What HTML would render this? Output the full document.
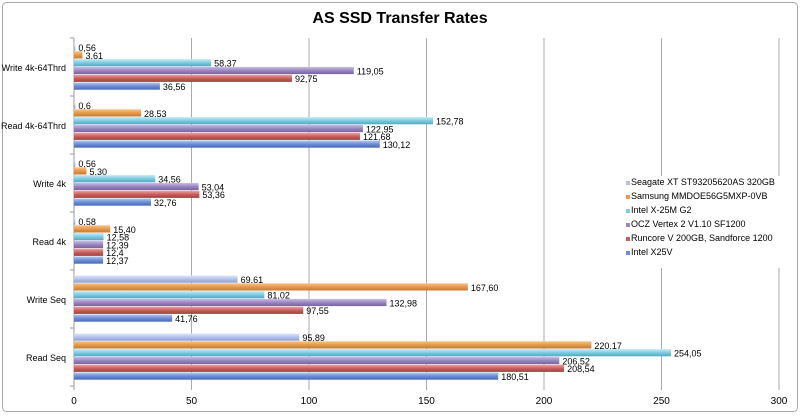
<!DOCTYPE html>
<html><head><meta charset="utf-8">
<style>
body{margin:0;background:#fff;font-family:"Liberation Sans",Arial,sans-serif;}
svg text{font-family:"Liberation Sans",Arial,sans-serif;}
</style></head>
<body>
<svg id="chart" width="800" height="414" viewBox="0 0 800 414">
<defs></defs>
<rect x="2.5" y="2.5" width="795" height="409" rx="4" fill="#fff" stroke="#aaa"/>
<text x="400" y="23" text-anchor="middle" font-size="16" font-weight="bold" fill="#000">AS SSD Transfer Rates</text>
<g id="grid"></g><g id="bars"></g><g id="axes"></g><g id="legend"></g>
</svg>
<script>
const categories=["Write 4k-64Thrd","Read 4k-64Thrd","Write 4k","Read 4k","Write Seq","Read Seq"];
const seriesNames=["Seagate XT ST93205620AS 320GB","Samsung MMDOE56G5MXP-0VB","Intel X-25M G2","OCZ Vertex 2 V1.10 SF1200","Runcore V 200GB, Sandforce 1200","Intel X25V"];
const seagate=[0.56,0.6,0.56,0.58,69.61,95.89];
const samsung=[3.61,28.53,5.30,15.40,167.60,220.17];
const intelG2=[58.37,152.78,34.56,12.58,81.02,254.05];
const ocz=[119.05,122.95,53.04,12.39,132.98,206.52];
const runcore=[92.75,121.68,53.36,12.4,97.55,208.54];
const x25v=[36.56,130.12,32.76,12.37,41.76,180.51];
const seagateLabels=["0,56","0,6","0,56","0,58","69,61","95,89"];
const samsungLabels=["3,61","28,53","5,30","15,40","167,60","220,17"];
const intelG2Labels=["58,37","152,78","34,56","12,58","81,02","254,05"];
const oczLabels=["119,05","122,95","53,04","12,39","132,98","206,52"];
const runcoreLabels=["92,75","121,68","53,36","12,4","97,55","208,54"];
const x25vLabels=["36,56","130,12","32,76","12,37","41,76","180,51"];
const xTicks=[0,50,100,150,200,250,300];

const series=[seagate,samsung,intelG2,ocz,runcore,x25v];
const labels=[seagateLabels,samsungLabels,intelG2Labels,oczLabels,runcoreLabels,x25vLabels];
const colors=[["#dfe6fb","#b3c1ea","#8e9fd2"],["#f6c38c","#e8984a","#c77a2e"],["#c4ecf6","#7fcbe0","#4fa8c0"],["#cbbde6","#9a86c2","#76649f"],["#eca3a0","#c8605e","#a2403e"],["#b3c8f2","#6b8ed6","#4a6bb5"]];
const NS="http://www.w3.org/2000/svg";
const svg=document.getElementById('chart');
const X0=74,X1=779,Y0=38,Y1=386,MAX=300;
const xs=v=>X0+(v/MAX)*(X1-X0);
const gH=(Y1-Y0)/categories.length;
function mk(tag,attrs,parent){const e=document.createElementNS(NS,tag);for(const k in attrs)e.setAttribute(k,attrs[k]);parent.appendChild(e);return e;}
const defs=svg.querySelector('defs');
colors.forEach((c,i)=>{const g=mk('linearGradient',{id:'g'+i,x1:0,y1:0,x2:0,y2:1},defs);
mk('stop',{offset:'0','stop-color':c[0]},g);mk('stop',{offset:'0.5','stop-color':c[1]},g);mk('stop',{offset:'1','stop-color':c[2]},g);});
const grid=document.getElementById('grid'),bars=document.getElementById('bars'),axes=document.getElementById('axes'),leg=document.getElementById('legend');
xTicks.forEach(t=>{const x=xs(t);
const l=mk('line',{x1:x,y1:Y0,x2:x,y2:Y1+4,stroke:t===0?'#999':'#aaa','stroke-width':1},grid);

const tx=mk('text',{x:x,y:Y1+18,'text-anchor':'middle','font-size':10,fill:'#000'},axes);tx.textContent=t;
});
categories.forEach((c,ci)=>{const gy=Y0+ci*gH;
mk('line',{x1:X0-4,y1:gy,x2:X0,y2:gy,stroke:'#999'},axes);
const t=mk('text',{x:66,y:gy+gH/2+4,'text-anchor':'end','font-size':9,fill:'#000'},axes);t.textContent=c;

series.forEach((s,si)=>{const by=gy+5.5+si*7.8;const w=xs(s[ci])-X0;
const r=mk('rect',{x:X0,y:by,width:Math.max(w,0.8),height:7.2,fill:'url(#g'+si+')'},bars);

const lt=mk('text',{x:xs(s[ci])+3,y:by+7.5,'font-size':9,fill:'#000'},bars);lt.textContent=labels[si][ci];
});});
mk('line',{x1:X0-4,y1:Y1,x2:X0,y2:Y1,stroke:'#999'},axes);
const lb=mk('rect',{x:620,y:176,width:163,height:92,fill:'#fff'},leg);

seriesNames.forEach((n,i)=>{const y=185+i*14;
const sw=mk('rect',{x:626,y:y-4,width:4,height:4,fill:colors[i][1]},leg);

const t=mk('text',{x:631,y:y,'font-size':9,fill:'#000'},leg);t.textContent=n;
});
</script>
</body></html>
